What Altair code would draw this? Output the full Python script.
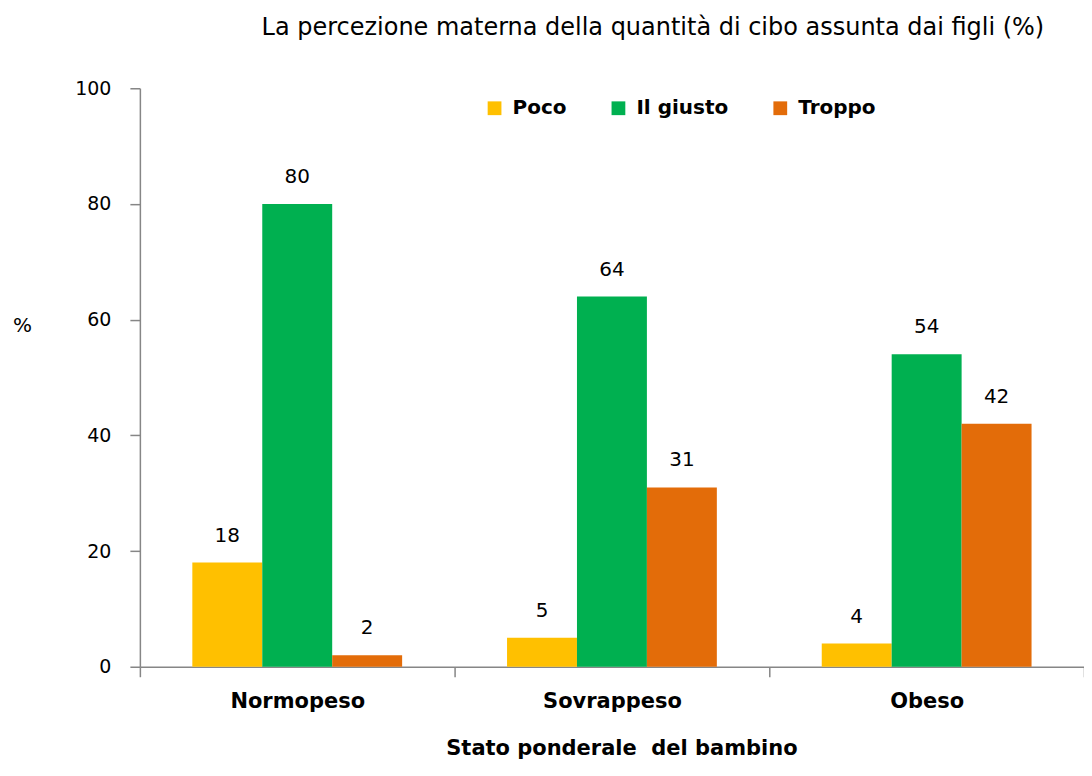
import altair as alt
import pandas as pd

categories = ["Normopeso", "Sovrappeso", "Obeso"]
series = ["Poco", "Il giusto", "Troppo"]
poco = [18, 5, 4]
giusto = [80, 64, 54]
troppo = [2, 31, 42]
colors = ["#FFC000", "#00B050", "#E36C09"]
y_ticks = [0, 20, 40, 60, 80, 100]

rows = []
for s, vals in zip(series, [poco, giusto, troppo]):
    for c, v in zip(categories, vals):
        rows.append({"cat": c, "serie": s, "value": v})
df = pd.DataFrame(rows)

FONT = "DejaVu Sans"
AX = "#868686"

x_enc = alt.X(
    "cat:N", sort=categories,
    scale=alt.Scale(paddingInner=0, paddingOuter=0),
    axis=alt.Axis(
        title="Stato ponderale\u00a0 del bambino", labelAngle=0,
        tickBand="extent", tickSize=10, tickColor=AX, tickWidth=1.5,
        domainColor=AX, domainWidth=1.5,
        labelFont=FONT, labelFontSize=21, labelFontWeight="bold", labelColor="#000",
        labelPadding=14, labelBaseline="top",
        titleFont=FONT, titleFontSize=21, titleFontWeight="bold", titleColor="#000",
        titleBaseline="alphabetic", titleY=88, titleX=482,
    ),
)
xo_enc = alt.XOffset("serie:N", sort=series,
                     scale=alt.Scale(paddingInner=0, paddingOuter=0.75))
y_enc = alt.Y(
    "value:Q",
    scale=alt.Scale(domain=[0, 100], nice=False),
    axis=alt.Axis(
        values=y_ticks, grid=False, title="%", titleAngle=0,
        titleX=-118, titleY=237, titleAlign="center", titleBaseline="middle",
        titleFont=FONT, titleFontSize=20, titleFontWeight="normal", titleColor="#000",
        tickSize=10, tickColor=AX, tickWidth=1.5, domainColor=AX, domainWidth=1.5,
        labelFont=FONT, labelFontSize=19, labelColor="#000", labelPadding=19,
    ),
)

base = alt.Chart(df).encode(x=x_enc, xOffset=xo_enc, y=y_enc)

bars = base.mark_bar().encode(
    color=alt.Color(
        "serie:N", sort=series,
        scale=alt.Scale(domain=series, range=colors),
        legend=alt.Legend(
            title=None, orient="none", legendX=345, legendY=10,
            direction="horizontal", symbolType="square", symbolSize=190,
            symbolStrokeWidth=0, symbolOpacity=1, columnPadding=42,
            labelFont=FONT, labelFontSize=20, labelFontWeight="bold",
            labelColor="#000", labelOffset=8,
        ),
    )
)
labels = base.mark_text(
    font=FONT, fontSize=20, color="#000", baseline="middle", dy=-27
).encode(text=alt.Text("value:Q"))

chart = (
    (bars + labels)
    .properties(
        width=945, height=579,
        autosize=alt.AutoSizeParams(type="none"),
        padding={"left": 132, "top": 80, "right": 0, "bottom": 94},
        title=alt.TitleParams(
            "La percezione materna della quantità di cibo assunta dai figli (%)",
            font=FONT, fontSize=24, fontWeight="normal", color="#000",
            anchor="middle", dx=41, offset=20, baseline="alphabetic",
        ),
    )
    .configure_view(stroke=None)
)

chart.save("out.html", embed_options={"renderer": "svg", "actions": False})
